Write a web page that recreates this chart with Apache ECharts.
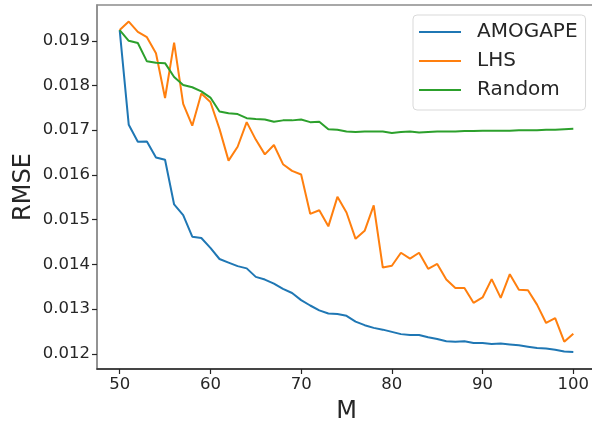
<!DOCTYPE html>
<html>
<head>
<meta charset="utf-8">
<script src="https://cdn.jsdelivr.net/npm/echarts@6/dist/echarts.min.js"></script>
<style>
  html, body { margin: 0; padding: 0; background: #fff; }
  #chart { width: 592px; height: 421px; }
</style>
</head>
<body>
<div id="chart"></div>
<script>
const mValues = [50, 51, 52, 53, 54, 55, 56, 57, 58, 59, 60, 61, 62, 63, 64, 65, 66, 67, 68, 69,
  70, 71, 72, 73, 74, 75, 76, 77, 78, 79, 80, 81, 82, 83, 84, 85, 86, 87, 88, 89,
  90, 91, 92, 93, 94, 95, 96, 97, 98, 99, 100]

const amogape = [0.01924, 0.01712, 0.01674, 0.01675, 0.01639, 0.01634, 0.01534, 0.01510, 0.01462, 0.01459,
  0.01437, 0.01412, 0.01404, 0.01396, 0.01391, 0.01372, 0.01366, 0.01357, 0.01345, 0.01336,
  0.01320, 0.01308, 0.01297, 0.01290, 0.01289, 0.01285, 0.01272, 0.01264, 0.01258, 0.01254,
  0.01249, 0.01244, 0.01242, 0.01242, 0.01237, 0.01233, 0.01228, 0.01227, 0.01228, 0.01224,
  0.01224, 0.01222, 0.01223, 0.01221, 0.01219, 0.01216, 0.01213, 0.01212, 0.01209, 0.01205, 0.01204]

const lhs = [0.01924, 0.01943, 0.01920, 0.01908, 0.01872, 0.01772, 0.01896, 0.01759, 0.01710, 0.01782,
  0.01763, 0.01703, 0.01632, 0.01663, 0.01718, 0.01679, 0.01646, 0.01667, 0.01624, 0.01609,
  0.01601, 0.01513, 0.01521, 0.01485, 0.01551, 0.01516, 0.01457, 0.01475, 0.01532, 0.01393,
  0.01397, 0.01426, 0.01413, 0.01426, 0.01390, 0.01401, 0.01366, 0.01347, 0.01347, 0.01314,
  0.01326, 0.01367, 0.01325, 0.01378, 0.01343, 0.01342, 0.01310, 0.01269, 0.01280, 0.01227, 0.01245]

const random = [0.01924, 0.01900, 0.01895, 0.01854, 0.01851, 0.01850, 0.01819, 0.01801, 0.01796, 0.01787,
  0.01773, 0.01742, 0.01738, 0.01736, 0.01727, 0.01725, 0.01724, 0.01719, 0.01722, 0.01722,
  0.01724, 0.01718, 0.01719, 0.01702, 0.01701, 0.01697, 0.01696, 0.01697, 0.01697, 0.01697,
  0.01694, 0.01696, 0.01697, 0.01695, 0.01696, 0.01697, 0.01697, 0.01697, 0.01698, 0.01698,
  0.01699, 0.01699, 0.01699, 0.01699, 0.01700, 0.01700, 0.01700, 0.01701, 0.01701, 0.01702, 0.01703]

const xTicks = [50, 60, 70, 80, 90, 100]
const yTicks = [0.012, 0.013, 0.014, 0.015, 0.016, 0.017, 0.018, 0.019]

// pair up M with each value
const toPairs = arr => arr.map((v, i) => [mValues[i], v])

const font = 'DejaVu Sans'
const chart = echarts.init(document.getElementById('chart'))

let option = {
  animation: false,
  color: ['#1f77b4', '#ff7f0e', '#2ca02c'],
  grid: {
    left: 97,
    top: 5,
    width: 499,
    bottom: 52,
    outerBoundsMode: 'none',
    containLabel: false,
    show: true,
    borderColor: '#8c8c8c',
    borderWidth: 1.5
  },
  legend: {
    orient: 'vertical',
    left: 413,
    top: 15,
    padding: [7, 8, 10, 6],
    itemGap: 9,
    itemWidth: 42,
    itemHeight: 2,
    icon: 'rect',
    borderColor: '#d9d9d9',
    borderWidth: 1,
    borderRadius: 4,
    backgroundColor: 'rgba(255,255,255,0.8)',
    textStyle: {
      fontFamily: font,
      fontSize: 20,
      lineHeight: 20,
      color: '#262626',
      padding: [0, 0, 0, 11]
    },
    data: ['AMOGAPE', 'LHS', 'Random']
  },
  xAxis: {
    type: 'value',
    min: 47.5,
    max: 102.5,
    name: 'M',
    nameLocation: 'middle',
    nameGap: 31,
    nameMoveOverlap: false,
    nameTextStyle: { fontFamily: font, fontSize: 24, color: '#262626' },
    splitLine: { show: false },
    axisLine: { lineStyle: { color: '#262626', width: 1.5 } },
    axisTick: { customValues: xTicks, length: 5, lineStyle: { color: '#262626', width: 1.2 } },
    axisLabel: {
      customValues: xTicks,
      margin: 7,
      fontFamily: font,
      fontSize: 16.5,
      color: '#262626'
    }
  },
  yAxis: {
    type: 'value',
    min: 0.01166,
    max: 0.0198,
    name: 'RMSE',
    nameLocation: 'middle',
    nameGap: 61,
    nameMoveOverlap: false,
    nameTextStyle: { fontFamily: font, fontSize: 24, color: '#262626' },
    splitLine: { show: false },
    axisLine: { show: true, lineStyle: { color: '#8c8c8c', width: 1.5 } },
    axisTick: { show: true, customValues: yTicks, length: 5, lineStyle: { color: '#262626', width: 1.2 } },
    axisLabel: {
      customValues: yTicks,
      margin: 7,
      fontFamily: font,
      fontSize: 16.5,
      color: '#262626',
      formatter: v => v.toFixed(3)
    }
  },
  series: [
    {
      name: 'AMOGAPE',
      type: 'line',
      showSymbol: false,
      lineStyle: { width: 2 },
      data: toPairs(amogape)
    },
    {
      name: 'LHS',
      type: 'line',
      showSymbol: false,
      lineStyle: { width: 2 },
      data: toPairs(lhs)
    },
    {
      name: 'Random',
      type: 'line',
      showSymbol: false,
      lineStyle: { width: 2 },
      data: toPairs(random)
    }
  ]
}
chart.setOption(option)
</script>
</body>
</html>
